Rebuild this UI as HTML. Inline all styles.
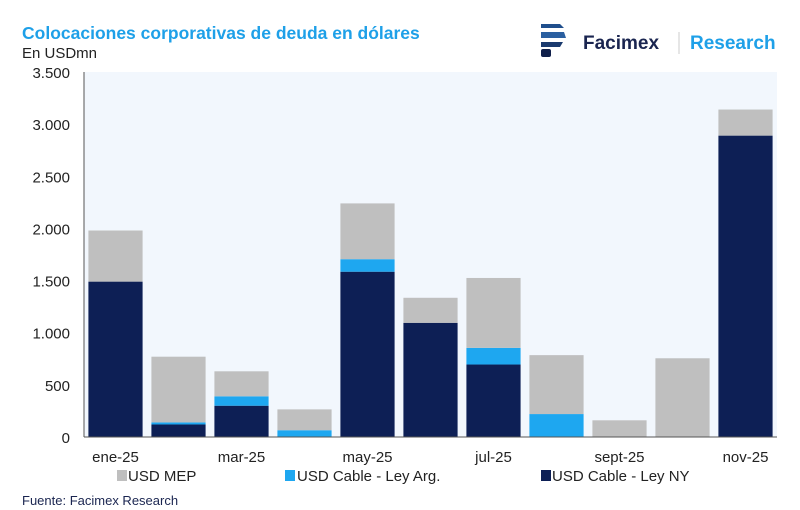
<!DOCTYPE html>
<html><head><meta charset="utf-8"><style>
body{margin:0;background:#fff;}
svg{display:block;font-family:"Liberation Sans",sans-serif;}
</style></head><body>
<svg width="800" height="510" viewBox="0 0 800 510">
<text x="22" y="39" font-size="17.5" fill="#1ea0e8" font-weight="bold">Colocaciones corporativas de deuda en dólares</text>
<text x="22" y="58" font-size="15" fill="#222">En USDmn</text>
<g>
<path d="M541 24 L560 24 L564 28 L541 28 Z" fill="#1f4e8c"/>
<path d="M541 32 L564 32 L566 38 L541 38 Z" fill="#2a5fa0"/>
<path d="M541 42 L563 42 L560 47 L541 47 Z" fill="#1a3a6e"/>
<rect x="541" y="49" width="10" height="8" rx="2" fill="#0f1f4a"/>
<text x="583" y="49" font-size="19" font-weight="bold" fill="#1a2550">Facimex</text>
<line x1="679" y1="32" x2="679" y2="54" stroke="#ccc"/>
<text x="690" y="49" font-size="19" font-weight="bold" fill="#1ea0e8">Research</text>
</g>
<rect x="84" y="72" width="693" height="365" fill="#f2f7fd"/>
<g id="yaxis"></g>
<g id="bars"></g>
<line x1="84" y1="72" x2="84" y2="437" stroke="#555"/>
<line x1="84" y1="437" x2="777" y2="437" stroke="#555"/>
<g id="xaxis"></g>
<g>
<rect x="117" y="470" width="10" height="11" fill="#bfbfbf"/>
<text x="128" y="481" font-size="15" fill="#222">USD MEP</text>
<rect x="285" y="470" width="10" height="11" fill="#1ea7f0"/>
<text x="297" y="481" font-size="15" fill="#222">USD Cable - Ley Arg.</text>
<rect x="541" y="470" width="10" height="11" fill="#0d1f55"/>
<text x="552" y="481" font-size="15" fill="#222">USD Cable - Ley NY</text>
</g>
<text x="22" y="505" font-size="13" fill="#1a2550">Fuente: Facimex Research</text>
</svg>
<script>
const categories=["ene-25","feb-25","mar-25","abr-25","may-25","jun-25","jul-25","ago-25","sept-25","oct-25","nov-25"];
const shownLabels=["ene-25","","mar-25","","may-25","","jul-25","","sept-25","","nov-25"];
const leyNY=[1490,120,300,0,1585,1095,695,0,0,0,2890];
const leyArg=[0,20,90,65,120,0,160,220,0,0,0];
const mep=[490,630,240,200,535,240,670,565,160,755,250];
const yTicks=[0,500,1000,1500,2000,2500,3000,3500];
const yTickLabels=["0","500","1.000","1.500","2.000","2.500","3.000","3.500"];
const NS="http://www.w3.org/2000/svg";
const X0=84,X1=777,Y0=437,Y1=72,YMAX=3500;
const band=(X1-X0)/categories.length;
const yS=v=>Y0-(v/YMAX)*(Y0-Y1);
const xS=i=>X0+band*i+band/2;
function mk(t,a){const e=document.createElementNS(NS,t);for(const k in a)e.setAttribute(k,a[k]);return e;}
const ya=document.getElementById('yaxis');
yTicks.forEach((v,i)=>{
 const t=mk('text',{x:70,y:yS(v)+6,'font-size':15,fill:'#222','text-anchor':'end'});
 t.textContent=yTickLabels[i];
 
 
 ya.appendChild(t);
});
const bg=document.getElementById('bars');
const series=[[leyNY,'#0d1f55','ny'],[leyArg,'#1ea7f0','arg'],[mep,'#bfbfbf','mep']];
const bw=band*0.86;
categories.forEach((c,i)=>{
 let base=0;
 series.forEach(([arr,col,nm])=>{
  const v=arr[i];
  if(v>0){
   const r=mk('rect',{x:xS(i)-bw/2,y:yS(base+v),width:bw,height:yS(base)-yS(base+v),fill:col});
   
   
   bg.appendChild(r);
  }
  base+=v;
 });
});
const xa=document.getElementById('xaxis');
shownLabels.forEach((l,i)=>{
 if(!l)return;
 const t=mk('text',{x:xS(i),y:462,'font-size':15,fill:'#222','text-anchor':'middle'});
 t.textContent=l;
 
 
 xa.appendChild(t);
});
</script>
</body></html>
